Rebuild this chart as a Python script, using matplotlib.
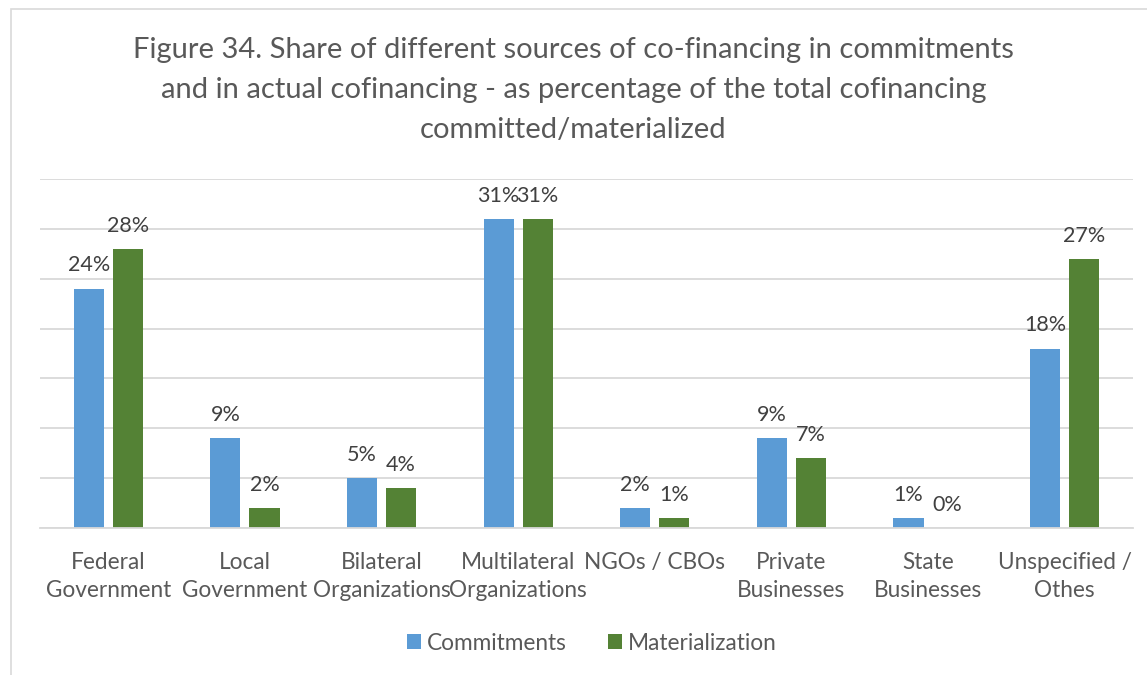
import numpy as np
from matplotlib import pyplot as plt
from matplotlib.patches import Rectangle

categories = ['Federal\nGovernment', 'Local\nGovernment', 'Bilateral\nOrganizations',
              'Multilateral\nOrganizations', 'NGOs / CBOs', 'Private\nBusinesses',
              'State\nBusinesses', 'Unspecified /\nOthes']
commitments = [24, 9, 5, 31, 2, 9, 1, 18]
materialization = [28, 2, 4, 31, 1, 7, 0, 27]
series_names = ['Commitments', 'Materialization']

BLUE = '#5b9bd5'
GREEN = '#548235'
GREY = '#595959'

plt.rcParams['font.family'] = ['Lato', 'DejaVu Sans']

fig = plt.figure(figsize=(11.47, 6.75), dpi=100)
ax = fig.add_axes([40/1147, 1-528/675, 1093/1147, 349/675])

x = np.arange(len(categories))
w = 0.22
off = 0.143
b1 = ax.bar(x - off, commitments, w, color=BLUE, label=series_names[0])
b2 = ax.bar(x + off, materialization, w, color=GREEN, label=series_names[1])

for bars, vals in [(b1, commitments), (b2, materialization)]:
    for b, v in zip(bars, vals):
        ax.annotate(f'{v}%', (b.get_x() + b.get_width()/2, v), xytext=(0, 9.5),
                    textcoords='offset points', ha='center', va='bottom',
                    fontsize=15.5, color='#404040')

ax.set_xlim(-0.5, len(categories) - 0.5)
ax.set_ylim(0, 35)
ax.set_yticks(np.arange(0, 36, 5))
ax.yaxis.grid(True, color='#d9d9d9', linewidth=1.3)
ax.set_axisbelow(True)
ax.tick_params(axis='y', left=False, labelleft=False)
ax.tick_params(axis='x', length=0, pad=17.5, labelsize=16.3, labelcolor=GREY)
ax.set_xticks(x)
ax.set_xticklabels(categories, linespacing=1.39)
for s in ['top', 'right', 'left']:
    ax.spines[s].set_visible(False)
ax.spines['bottom'].set_color('#d9d9d9')
ax.spines['bottom'].set_linewidth(1.3)

fig.text(0.5, 1 - 90/675, 'Figure 34. Share of different sources of co-financing in commitments\n'
         'and in actual cofinancing - as percentage of the total cofinancing\n'
         'committed/materialized', ha='center', va='center', fontsize=21,
         color=GREY, linespacing=1.67)

fig.legend(handles=[b1, b2], labels=series_names, loc='center',
           bbox_to_anchor=(592/1147, 1 - 643/675), ncol=2, frameon=False,
           fontsize=16.3, labelcolor=GREY, handlelength=0.6, handleheight=0.6,
           handletextpad=0.3, columnspacing=1.8)

fig.patches.append(Rectangle((11/1147, -0.1), 1.2, 1 - 9/675 + 0.1, transform=fig.transFigure,
                             fill=False, edgecolor='#d9d9d9', linewidth=1.2))

fig.savefig('out.png', dpi=100)
